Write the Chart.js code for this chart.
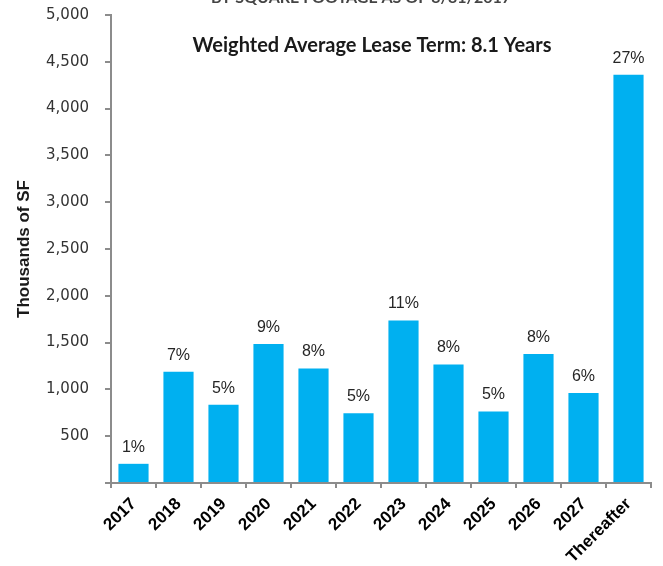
<!DOCTYPE html>
<html lang="en">
<head>
    <meta charset="UTF-8">
    <title>Lease Expirations</title>
    <style>
        html, body { margin: 0; padding: 0; background: #fff; }
        #wrap { width: 663px; height: 566px; }
    </style>
</head>
<body>
    <div id="wrap">
        <canvas id="myChart" width="663" height="566"></canvas>
    </div>

    <script src="https://cdn.jsdelivr.net/npm/chart.js"></script>

    <script>
        // Expiring square footage by year (thousands of SF) and share of total
        const years = ['2017', '2018', '2019', '2020', '2021', '2022', '2023', '2024', '2025', '2026', '2027', 'Thereafter'];
        const sqft = [205, 1189, 837, 1485, 1224, 744, 1737, 1267, 765, 1378, 962, 4362];
        const shares = ['1%', '7%', '5%', '9%', '8%', '5%', '11%', '8%', '5%', '8%', '6%', '27%'];

        const headline = 'BY SQUARE FOOTAGE AS OF 3/31/2017';
        const subtitle = 'Weighted Average Lease Term: 8.1 Years';

        // percent labels above each bar + the text block inside the plot
        const annotations = {
            id: 'annotations',
            afterDatasetsDraw(chart) {
                const c = chart.ctx;
                const area = chart.chartArea;
                const bars = chart.getDatasetMeta(0).data;

                c.save();
                c.fillStyle = '#262626';
                c.font = '16px "Liberation Sans", Arial, sans-serif';
                c.textAlign = 'center';
                c.textBaseline = 'alphabetic';
                bars.forEach((bar, i) => {
                    c.fillText(shares[i], bar.x, bar.y - 12);
                });

                c.fillStyle = '#1a1a1a';
                c.font = 'bold 20px Lato, "Open Sans", sans-serif';
                c.fillText(subtitle, (area.left + area.right) / 2 - 9, area.top + 37);

                c.fillStyle = '#444';
                c.font = 'bold 16px Lato, "Open Sans", sans-serif';
                c.fillText(headline, (area.left + area.right) / 2 - 20, 3);
                c.restore();
            }
        };

        const ctx = document.getElementById('myChart');

        new Chart(ctx, {
            type: 'bar',
            data: {
                labels: years,
                datasets: [{
                    data: sqft,
                    backgroundColor: '#00B0F0',
                    borderWidth: 0,
                    categoryPercentage: 1,
                    barPercentage: 0.67
                }]
            },
            options: {
                responsive: false,
                animation: false,
                layout: { padding: { top: 15, right: 12, left: 0, bottom: 0 } },
                plugins: {
                    legend: { display: false },
                    tooltip: { enabled: false }
                },
                scales: {
                    x: {
                        grid: {
                            offset: true,
                            drawOnChartArea: false,
                            drawTicks: true,
                            tickLength: 5,
                            color: '#8c8c8c',
                            lineWidth: 2
                        },
                        border: { color: '#8c8c8c', width: 2 },
                        ticks: {
                            autoSkip: false,
                            minRotation: 45,
                            maxRotation: 45,
                            padding: 6,
                            color: '#000',
                            font: { family: '"Liberation Sans", Arial, sans-serif', size: 17, weight: 'bold' }
                        },
                        afterFit(scale) { scale.height = 83; }
                    },
                    y: {
                        min: 0,
                        max: 5000,
                        grid: {
                            drawOnChartArea: false,
                            drawTicks: true,
                            tickLength: 6,
                            color: '#8c8c8c',
                            lineWidth: 2
                        },
                        border: { color: '#8c8c8c', width: 2 },
                        ticks: {
                            stepSize: 500,
                            padding: 16,
                            color: '#333',
                            font: { family: '"DejaVu Sans", Verdana, sans-serif', size: 15 },
                            callback: v => v === 0 ? '' : v.toLocaleString('en-US')
                        },
                        title: {
                            display: true,
                            text: 'Thousands of SF',
                            color: '#1a1a1a',
                            padding: { top: 14, bottom: 0 },
                            font: { family: '"Liberation Sans", Arial, sans-serif', size: 17, weight: 'bold' }
                        },
                        afterFit(scale) {
                            scale.width = 111;
                            // tick padding should not push the plot down
                            scale.paddingTop = 0;
                            scale.paddingBottom = 0;
                        }
                    }
                }
            },
            plugins: [annotations]
        });
    </script>
</body>
</html>
